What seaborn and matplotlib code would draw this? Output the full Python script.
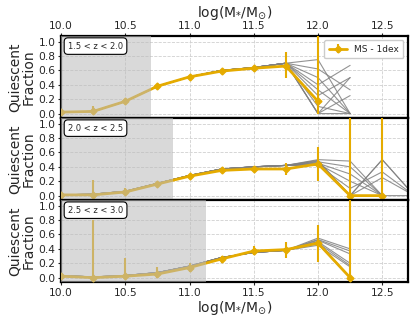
import numpy as np
import pandas as pd
import matplotlib
matplotlib.use("Agg")
import matplotlib.pyplot as plt
import seaborn as sns

# --- data ---
nan = np.nan
panel_labels = ["1.5 < z < 2.0", "2.0 < z < 2.5", "2.5 < z < 3.0"]
mass_limits = [10.70, 10.87, 11.13]

mass1 = [10.0, 10.25, 10.5, 10.75, 11.0, 11.25, 11.5, 11.75, 12.0]
frac1 = [0.02, 0.03, 0.17, 0.38, 0.51, 0.59, 0.63, 0.66, 0.17]
err_lo1 = [0.01, 0.03, 0.02, 0.02, 0.02, 0.02, 0.03, 0.16, 0.17]
err_hi1 = [0.01, 0.08, 0.02, 0.02, 0.02, 0.02, 0.03, 0.19, 1.0]

mass2 = [10.0, 10.25, 10.5, 10.75, 11.0, 11.25, 11.5, 11.75, 12.0, 12.25, 12.5]
frac2 = [0.01, 0.01, 0.05, 0.16, 0.27, 0.35, 0.37, 0.37, 0.44, 0.0, 0.0]
err_lo2 = [0.01, 0.01, 0.04, 0.02, 0.02, 0.02, 0.03, 0.08, 0.24, 0.0, 0.0]
err_hi2 = [0.01, 0.21, 0.05, 0.02, 0.02, 0.02, 0.03, 0.08, 0.24, 1.1, 1.1]

mass3 = [10.0, 10.25, 10.5, 10.75, 11.0, 11.25, 11.5, 11.75, 12.0, 12.25]
frac3 = [0.02, 0.0, 0.02, 0.05, 0.14, 0.26, 0.37, 0.39, 0.48, 0.0]
err_lo3 = [0.02, 0.0, 0.02, 0.05, 0.06, 0.05, 0.06, 0.11, 0.26, 0.0]
err_hi3 = [0.02, 0.8, 0.26, 0.10, 0.06, 0.04, 0.07, 0.11, 0.25, 1.1]

# grey realisations: shared low-mass part + individual high-mass tails
core_mass1 = [10.0, 10.25, 10.5, 10.75, 11.0, 11.25, 11.5, 11.75]
core1 = [0.02, 0.03, 0.17, 0.38, 0.51, 0.60, 0.64, 0.70]
tail_mass1 = [12.0, 12.25]
tails1 = [[0.75, 0.0], [0.62, 0.33], [0.5, 0.0], [0.4, 0.67], [0.33, 0.0],
          [0.25, 0.5], [0.0, 0.5], [0.0, 0.25], [0.1, 0.0], [0.0, 0.0]]

core_mass2 = [10.0, 10.25, 10.5, 10.75, 11.0, 11.25, 11.5, 11.75]
core2 = [0.01, 0.02, 0.06, 0.17, 0.28, 0.37, 0.40, 0.42]
tail_mass2 = [12.0, 12.25, 12.5, 12.75]
tails2 = [[0.50, 0.48, 0.0, nan], [0.47, 0.40, 0.0, nan], [0.45, 0.30, 0.0, nan],
          [0.44, 0.20, 0.0, nan], [0.42, 0.10, 0.33, 0.0], [0.48, 0.0, 0.50, 0.0],
          [0.46, 0.0, 0.25, 0.0], [0.43, 0.0, 0.0, 0.0], [0.49, 0.0, 0.5, 0.0]]

core_mass3 = [10.0, 10.25, 10.5, 10.75, 11.0, 11.25, 11.5, 11.75]
core3 = [0.03, 0.01, 0.03, 0.07, 0.16, 0.28, 0.35, 0.38]
tail_mass3 = [12.0, 12.25]
tails3 = [[0.55, 0.40], [0.52, 0.33], [0.50, 0.20], [0.48, 0.17],
          [0.45, 0.15], [0.50, 0.0], [0.47, 0.0], [0.53, 0.37]]

panels = [
    (mass1, frac1, err_lo1, err_hi1, core_mass1, core1, tail_mass1, tails1),
    (mass2, frac2, err_lo2, err_hi2, core_mass2, core2, tail_mass2, tails2),
    (mass3, frac3, err_lo3, err_hi3, core_mass3, core3, tail_mass3, tails3),
]

gold = "#E5AB00"
xlab = r"log(M$_{*}$/M$_{\odot}$)"

sns.set_style("ticks")
plt.rcParams["font.family"] = ["DejaVu Sans"]

fig, axes = plt.subplots(3, 1, figsize=(4.15, 3.23), dpi=100)
fig.subplots_adjust(left=0.147, right=0.983, top=0.889, bottom=0.127, hspace=0)

for i, ax in enumerate(axes):
    mass, frac, lo, hi, cmass, core, tmass, tails = panels[i]

    # grey lines
    rows = []
    for k, t in enumerate(tails):
        for m, v in zip(cmass + tmass, core + t):
            rows.append({"mass": m, "frac": v, "line": k})
    grey = pd.DataFrame(rows).dropna()
    sns.lineplot(data=grey, x="mass", y="frac", units="line", estimator=None,
                 color="grey", lw=0.8, alpha=0.85, ax=ax, legend=False, zorder=2)

    ax.errorbar(mass, frac, yerr=[lo, hi], color=gold, marker="D", ms=3.5,
                lw=2, elinewidth=1.5, capsize=0, label="MS - 1dex", zorder=3)

    ax.axvspan(9.9, mass_limits[i], color="#bbbbbb", alpha=0.55, lw=0, zorder=4)

    ax.set_xlim(10.0, 12.7)
    ax.set_ylim(-0.06, 1.08)
    ax.set_yticks([0.0, 0.2, 0.4, 0.6, 0.8, 1.0])
    ax.set_xticks([10.0, 10.5, 11.0, 11.5, 12.0, 12.5])
    ax.grid(True, ls="--", lw=0.6, color="#d0d0d0", zorder=0)
    ax.tick_params(labelsize=7.7, length=2.5, width=0.8, pad=1.5)
    ax.set_ylabel("Quiescent\nFraction", fontsize=10, labelpad=2, linespacing=0.95)
    ax.set_xlabel("")
    for s in ax.spines.values():
        s.set_linewidth(1.6)
        s.set_color("black")

    ax.text(0.02, 0.93, panel_labels[i], transform=ax.transAxes, fontsize=6,
            va="top", ha="left", zorder=6,
            bbox=dict(boxstyle="round,pad=0.45", fc="white", ec="black", lw=0.8))

# top panel: ticks and label on top
axes[0].tick_params(axis="x", top=True, labeltop=True, bottom=False, labelbottom=False,
                    pad=1)
axes[0].xaxis.set_label_position("top")
axes[0].set_xlabel(xlab, fontsize=10)
axes[0].xaxis.set_label_coords(0.5, 1.23)
axes[1].tick_params(axis="x", bottom=False, labelbottom=False)
axes[2].set_xlabel(xlab, fontsize=10, labelpad=1)

axes[0].legend(loc="upper right", fontsize=6.5, handlelength=2.0, framealpha=1,
               borderpad=0.5, fancybox=True)

fig.savefig("out.png", dpi=100)
